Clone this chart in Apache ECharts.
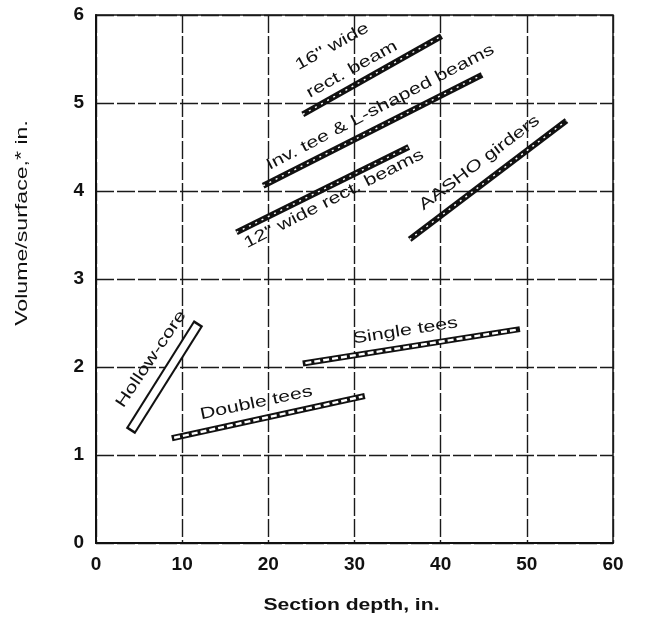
<!DOCTYPE html>
<html>
<head>
<meta charset="utf-8">
<script src="https://cdn.jsdelivr.net/npm/echarts@6/dist/echarts.min.js"></script>
<style>
  html, body { margin: 0; padding: 0; background: #fff; }
  #chart { width: 645px; height: 630px; }
</style>
</head>
<body>
<div id="chart"></div>
<script>
// Volume/surface ratio (in.) against section depth (in.) for precast member types.
// Each member family is a band between two end points: [depth], [volume/surface].
const rect16Depth = [24.0, 40.1];
const rect16VS = [4.87, 5.76];

const invTeeDepth = [19.4, 44.8];
const invTeeVS = [4.06, 5.32];

const rect12Depth = [16.3, 36.3];
const rect12VS = [3.53, 4.50];

const aashoDepth = [36.4, 54.6];
const aashoVS = [3.45, 4.80];

const singleTeeDepth = [24.0, 49.2];
const singleTeeVS = [2.04, 2.43];

const doubleTeeDepth = [8.8, 31.2];
const doubleTeeVS = [1.19, 1.67];

const hollowCoreDepth = [4.0, 11.9];
const hollowCoreVS = [1.27, 2.5];

// Axis ticks
const depthTicks = [0, 10, 20, 30, 40, 50, 60];
const vsTicks = [0, 1, 2, 3, 4, 5, 6];

// Annotation texts
const labelTexts = ['16" wide', 'rect. beam', 'Inv. tee & L-shaped beams', '12" wide rect. beams',
  'AASHO girders', 'Single tees', 'Double tees', 'Hollow-core'];

// Where each annotation is centred (data units) and its angle in degrees
const labelLayout = [
  { at: [27.4, 5.64], rotate: 29 },
  { at: [29.7, 5.38], rotate: 29 },
  { at: [33.0, 4.95], rotate: 27.5 },
  { at: [27.6, 3.91], rotate: 27 },
  { at: [44.5, 4.32], rotate: 37 },
  { at: [35.9, 2.41], rotate: 9 },
  { at: [18.6, 1.59], rotate: 12 },
  { at: [6.4, 2.09], rotate: 56 }
];

const FONT = '"Liberation Sans", Arial, Helvetica, sans-serif';
const WIDE = 1.34; // the lettering is an extended face

function pairs(xs, ys) {
  return xs.map((x, i) => [x, ys[i]]);
}

// Same band pulled in a little at both ends, so an outlined box closes
function inset(xs, ys, t) {
  const dx = xs[1] - xs[0], dy = ys[1] - ys[0];
  return [[xs[0] + dx * t, ys[0] + dy * t], [xs[1] - dx * t, ys[1] - dy * t]];
}

// A dark band with light flecks running through it
function darkBand(name, xs, ys) {
  return [
    { name: name, type: 'line', data: pairs(xs, ys), symbol: 'none', silent: true, z: 3,
      lineStyle: { color: '#111', width: 6, cap: 'butt' } },
    { name: name + '-fleck', type: 'line', data: pairs(xs, ys), symbol: 'none', silent: true, z: 4,
      lineStyle: { color: '#fff', width: 1.4, type: [2, 5], cap: 'butt' } }
  ];
}

// An outlined band with a broken light core
function openBand(name, xs, ys, width, core, dash) {
  return [
    { name: name, type: 'line', data: pairs(xs, ys), symbol: 'none', silent: true, z: 3,
      lineStyle: { color: '#111', width: width, cap: 'butt' } },
    { name: name + '-core', type: 'line', data: inset(xs, ys, 0.012), symbol: 'none', silent: true, z: 4,
      lineStyle: { color: '#fff', width: core, type: dash, cap: 'butt' } }
  ];
}

// Hollow-core: a closed outline box
function boxBand(name, xs, ys) {
  return [
    { name: name, type: 'line', data: pairs(xs, ys), symbol: 'none', silent: true, z: 3,
      lineStyle: { color: '#111', width: 11, cap: 'butt' } },
    { name: name + '-inner', type: 'line', data: inset(xs, ys, 0.02), symbol: 'none', silent: true, z: 4,
      lineStyle: { color: '#fff', width: 7, cap: 'butt' } }
  ];
}

// Rotated, horizontally extended text: the group turns, the text inside stretches along its baseline
function wideText(x, y, angleDeg, text, size, weight, stretch) {
  return {
    type: 'group', x: x, y: y, rotation: angleDeg * Math.PI / 180, z: 10, silent: true,
    children: [{
      type: 'text', x: 0, y: 0, scaleX: stretch, z: 10, silent: true,
      style: { text: text, fontFamily: FONT, fontSize: size, fontWeight: weight, fill: '#111',
        align: 'center', verticalAlign: 'middle' }
    }]
  };
}

const chart = echarts.init(document.getElementById('chart'), null, { renderer: 'canvas' });

chart.setOption({
  animation: false,
  backgroundColor: '#fff',
  grid: { left: 96, right: 32, top: 15, bottom: 87, show: true, borderColor: '#111', borderWidth: 1.5 },
  xAxis: {
    type: 'value', min: depthTicks[0], max: depthTicks[depthTicks.length - 1], interval: 10,
    axisLine: { show: true, lineStyle: { color: '#111', width: 2 } },
    axisTick: { show: false },
    axisLabel: { fontFamily: FONT, fontSize: 19, fontWeight: 'bold', color: '#111', margin: 12 },
    splitLine: { show: true, lineStyle: { color: '#1a1a1a', width: 1.4, type: [18, 3] } }
  },
  yAxis: {
    type: 'value', min: vsTicks[0], max: vsTicks[vsTicks.length - 1], interval: 1,
    axisLine: { show: true, lineStyle: { color: '#111', width: 2 } },
    axisTick: { show: false },
    axisLabel: { fontFamily: FONT, fontSize: 19, fontWeight: 'bold', color: '#111', margin: 12 },
    splitLine: { show: true, lineStyle: { color: '#1a1a1a', width: 1.4, type: [18, 3] } }
  },
  series: [
    ...darkBand('16" wide rect. beam', rect16Depth, rect16VS),
    ...darkBand('Inv. tee & L-shaped beams', invTeeDepth, invTeeVS),
    ...darkBand('12" wide rect. beams', rect12Depth, rect12VS),
    ...darkBand('AASHO girders', aashoDepth, aashoVS),
    ...openBand('Single tees', singleTeeDepth, singleTeeVS, 6, 2.4, [6, 3]),
    ...openBand('Double tees', doubleTeeDepth, doubleTeeVS, 6, 2.4, [6, 3]),
    ...boxBand('Hollow-core', hollowCoreDepth, hollowCoreVS)
  ]
});

// Annotations placed through the axes' own coordinate mapping
const annotations = labelTexts.map((t, i) => {
  const p = chart.convertToPixel({ gridIndex: 0 }, labelLayout[i].at);
  return wideText(p[0], p[1], labelLayout[i].rotate, t, 16, 'normal', WIDE);
});

// Axis titles
const midX = chart.convertToPixel({ gridIndex: 0 }, [30, 0]);
annotations.push(wideText(midX[0] - 3, 606, 0, 'Section depth, in.', 16, 'bold', 1.32));
annotations.push(wideText(22, 223, 90, 'Volume/surface,* in.', 17, 'normal', 1.36));

chart.setOption({ graphic: annotations });
</script>
</body>
</html>
